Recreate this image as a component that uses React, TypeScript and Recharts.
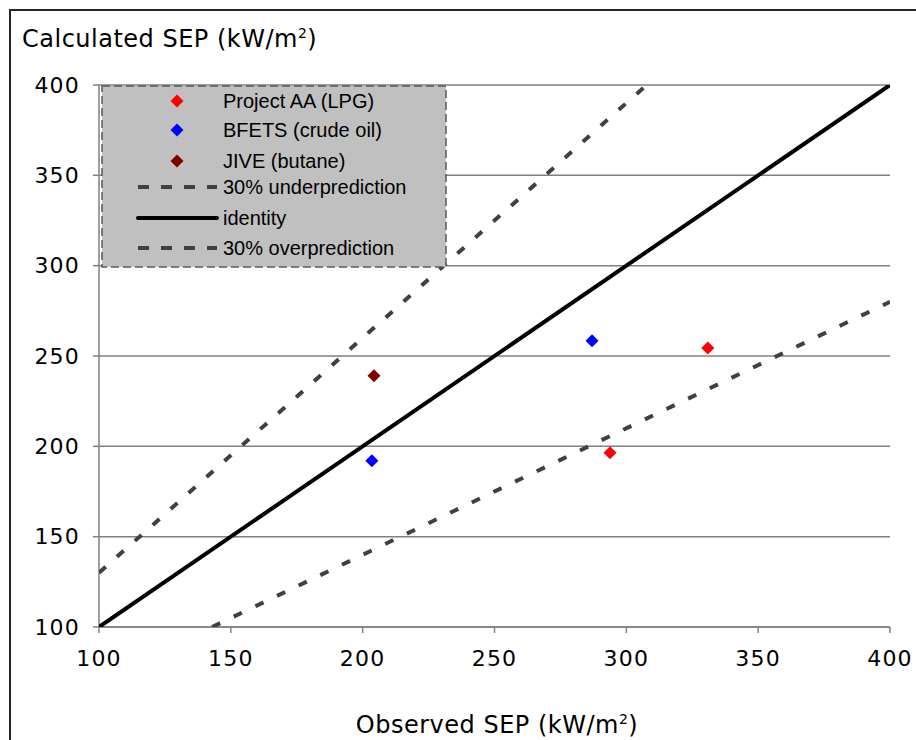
import React from 'react';
import { ScatterChart, Scatter, XAxis, YAxis, CartesianGrid, Legend } from 'recharts';

// Measured points (observed SEP, calculated SEP), kW/m2
const projectAA = [
  { x: 293.8, y: 196.5 },
  { x: 330.9, y: 254.4 },
];
const bfets = [
  { x: 203.5, y: 192.0 },
  { x: 287.0, y: 258.5 },
];
const jive = [{ x: 204.3, y: 239.0 }];

// Reference lines
const underLine = [
  { x: 100, y: 130 },
  { x: 310, y: 403 },
];
const identityLine = [
  { x: 100, y: 100 },
  { x: 400, y: 400 },
];
const overLine = [
  { x: 142.9, y: 100 },
  { x: 400, y: 280 },
];

const axisTicks = [100, 150, 200, 250, 300, 350, 400];

const legendItems = [
  { label: 'Project AA (LPG)', kind: 'diamond', color: '#FF0000' },
  { label: 'BFETS (crude oil)', kind: 'diamond', color: '#0000FF' },
  { label: 'JIVE (butane)', kind: 'diamond', color: '#800000' },
  { label: '30% underprediction', kind: 'dash', color: '#404040' },
  { label: 'identity', kind: 'solid', color: '#000000' },
  { label: '30% overprediction', kind: 'dash', color: '#404040' },
];

const AXIS_FONT = '"DejaVu Sans", Verdana, sans-serif';
const LEGEND_FONT = '"Liberation Sans", Arial, sans-serif';
const LINE_DASH = '9 15';
const LEGEND_DASH = '11 12';

const makeDiamond = (color: string) => (props: any) => {
  const { cx, cy } = props;
  if (cx == null || cy == null) return <g />;
  const r = 6.5;
  return (
    <polygon
      points={`${cx},${cy - r} ${cx + r},${cy} ${cx},${cy + r} ${cx - r},${cy}`}
      fill={color}
    />
  );
};

const noPoint = () => <g />;

const legendRowY = [16, 45, 76, 102, 133, 163];

const renderLegend = () => (
  <svg width={346} height={184} style={{ display: 'block' }}>
    <rect x={1} y={1} width={344} height={181} fill="#C0C0C0" stroke="#595959" strokeWidth={1.5} strokeDasharray="8 4" />
    {legendItems.map((item, i) => {
      const y = legendRowY[i];
      return (
        <g key={item.label}>
          {item.kind === 'diamond' && (
            <polygon points={`76,${y - 6.5} 82.5,${y} 76,${y + 6.5} 69.5,${y}`} fill={item.color} />
          )}
          {item.kind === 'dash' && (
            <line x1={37} y1={y} x2={116} y2={y} stroke={item.color} strokeWidth={4} strokeDasharray={LEGEND_DASH} />
          )}
          {item.kind === 'solid' && (
            <line x1={37} y1={y} x2={116} y2={y} stroke={item.color} strokeWidth={4} strokeLinecap="round" />
          )}
          <text x={122} y={y} dy="0.36em" fontFamily={LEGEND_FONT} fontSize={20} fill="#000">
            {item.label}
          </text>
        </g>
      );
    })}
  </svg>
);

const tickStyle = { fill: '#000', fontSize: 22, fontFamily: AXIS_FONT, letterSpacing: 1.2 };

export default function App() {
  return (
    <div style={{ position: 'fixed', left: 0, top: 0, width: 916, height: 740, overflow: 'hidden', background: '#fff' }}>
      <div
        style={{
          position: 'absolute',
          left: 9,
          top: 9,
          width: 940,
          height: 760,
          borderTop: '2px solid #262626',
          borderLeft: '2px solid #262626',
          boxSizing: 'border-box',
        }}
      />
      <div style={{ position: 'absolute', left: 0, top: 0 }}>
        <ScatterChart width={916} height={740} margin={{ top: 85, right: 26, bottom: 73, left: 19 }}>
          <CartesianGrid vertical={false} stroke="#808080" strokeWidth={1.5} />
          <XAxis
            type="number"
            dataKey="x"
            domain={[100, 400]}
            ticks={axisTicks}
            interval={0}
            allowDataOverflow
            height={40}
            stroke="#808080"
            strokeWidth={1.5}
            tickSize={6}
            tickMargin={17}
            tick={tickStyle}
          />
          <YAxis
            type="number"
            dataKey="y"
            domain={[100, 400]}
            ticks={axisTicks}
            interval={0}
            allowDataOverflow
            width={80}
            stroke="#808080"
            strokeWidth={1.5}
            tickSize={6}
            tickMargin={13}
            tick={tickStyle}
          />
          <Legend
            layout="vertical"
            align="center"
            verticalAlign="middle"
            content={renderLegend}
            wrapperStyle={{ left: 101, top: 85, width: 346, height: 184 }}
          />
          <Scatter name="30% underprediction" data={underLine} line={{ stroke: '#404040', strokeWidth: 4, strokeDasharray: LINE_DASH }} lineType="joint" shape={noPoint} isAnimationActive={false} />
          <Scatter name="identity" data={identityLine} line={{ stroke: '#000000', strokeWidth: 4 }} lineType="joint" shape={noPoint} isAnimationActive={false} />
          <Scatter name="30% overprediction" data={overLine} line={{ stroke: '#404040', strokeWidth: 4, strokeDasharray: LINE_DASH }} lineType="joint" shape={noPoint} isAnimationActive={false} />
          <Scatter name="Project AA (LPG)" data={projectAA} shape={makeDiamond('#FF0000')} isAnimationActive={false} />
          <Scatter name="BFETS (crude oil)" data={bfets} shape={makeDiamond('#0000FF')} isAnimationActive={false} />
          <Scatter name="JIVE (butane)" data={jive} shape={makeDiamond('#800000')} isAnimationActive={false} />
        </ScatterChart>
      </div>
      <div
        style={{
          position: 'absolute',
          left: 22,
          top: 27,
          fontFamily: AXIS_FONT,
          fontSize: 24,
          lineHeight: '24px',
          letterSpacing: 0.5,
          color: '#000',
          whiteSpace: 'nowrap',
        }}
      >
        Calculated SEP (kW/m<span style={{ position: 'relative', top: -9, fontSize: 14 }}>2</span>)
      </div>
      <div
        style={{
          position: 'absolute',
          left: 99,
          width: 796,
          top: 713,
          textAlign: 'center',
          fontFamily: AXIS_FONT,
          fontSize: 24,
          lineHeight: '24px',
          letterSpacing: 0.5,
          color: '#000',
          whiteSpace: 'nowrap',
        }}
      >
        Observed SEP (kW/m<span style={{ position: 'relative', top: -9, fontSize: 14 }}>2</span>)
      </div>
    </div>
  );
}
